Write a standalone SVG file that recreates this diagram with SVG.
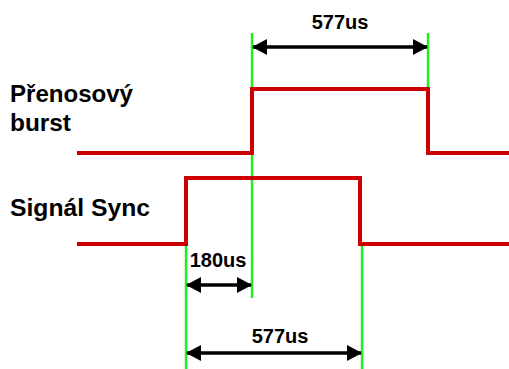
<svg xmlns="http://www.w3.org/2000/svg" width="509" height="369" viewBox="0 0 509 369">
<defs>
<style>
.g{stroke:#22ee22;stroke-width:2.5;fill:none}
.r{stroke:#cc0000;stroke-width:4;fill:none;stroke-linejoin:miter}
.a{stroke:#000;stroke-width:3.5;fill:none}
.lbl{font-family:"Liberation Sans",Arial,sans-serif;font-weight:bold;font-size:23px;fill:#000}
.dim{font-family:"Liberation Sans",Arial,sans-serif;font-weight:bold;font-size:20px;fill:#000}
</style>
<marker id="ah" viewBox="0 0 15 16" refX="14" refY="8" markerWidth="15" markerHeight="16" markerUnits="userSpaceOnUse" orient="auto-start-reverse">
<path d="M0,0 L15,8 L0,16 Z" fill="#000"/>
</marker>
</defs>
<g id="labels">
<text class="lbl" x="10" y="102" textLength="123" lengthAdjust="spacingAndGlyphs">Přenosový</text>
<text class="lbl" x="10" y="131" textLength="61" lengthAdjust="spacingAndGlyphs">burst</text>
<text class="lbl" x="10" y="216" textLength="140" lengthAdjust="spacingAndGlyphs">Signál Sync</text>
</g>
<g id="guides">
<line class="g" x1="252" y1="33" x2="252" y2="298"/>
<line class="g" x1="428" y1="33" x2="428" y2="89"/>
<line class="g" x1="186" y1="243" x2="186" y2="369"/>
<line class="g" x1="362" y1="243" x2="362" y2="369"/>
</g>
<g id="burst">
<polyline class="r" points="77,153 252,153 252,89 428,89 428,153 509,153"/>
</g>
<g id="sync">
<polyline class="r" points="77,244 186,244 186,178 360,178 360,244 509,244"/>
</g>
<g id="connectors">
<line class="a" x1="253" y1="47" x2="427" y2="47" marker-start="url(#ah)" marker-end="url(#ah)"/>
<line class="a" x1="187" y1="285" x2="251" y2="285" marker-start="url(#ah)" marker-end="url(#ah)"/>
<line class="a" x1="187" y1="353" x2="361" y2="353" marker-start="url(#ah)" marker-end="url(#ah)"/>
</g>
<g id="dims">
<text class="dim" x="340" y="29" text-anchor="middle">577us</text>
<text class="dim" x="218" y="267" text-anchor="middle">180us</text>
<text class="dim" x="280" y="343" text-anchor="middle">577us</text>
</g>
</svg>
